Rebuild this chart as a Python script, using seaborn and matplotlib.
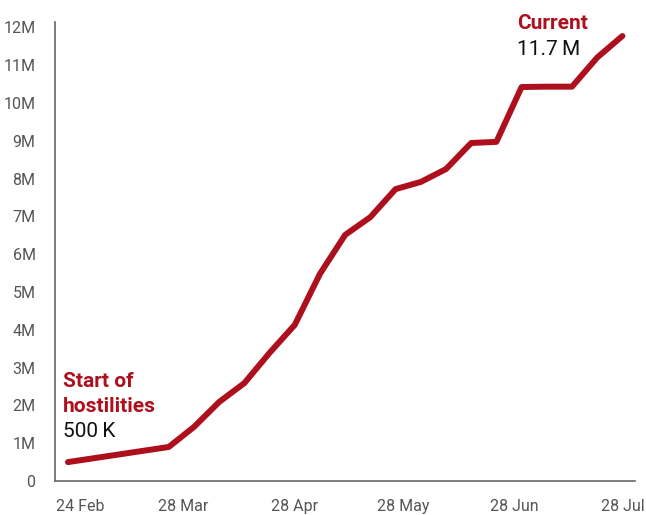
import matplotlib
matplotlib.use("Agg")
import matplotlib.pyplot as plt
import matplotlib.transforms as mtransforms
import seaborn as sns
import pandas as pd
import numpy as np

# Data (days since 24 Feb, cumulative people in millions)
days = [0, 28, 35, 42, 49, 56, 63, 70, 77, 84, 91, 98, 105, 112, 119, 126, 133, 140, 147, 154]
values_m = [0.5, 0.90, 1.43, 2.09, 2.59, 3.39, 4.13, 5.48, 6.51, 6.98, 7.72, 7.91, 8.25,
            8.94, 8.97, 10.42, 10.43, 10.43, 11.2, 11.77]
tick_days = [0, 32, 63, 93, 124, 154]
tick_labels = ["24 Feb", "28 Mar", "28 Apr", "28 May", "28 Jun", "28 Jul"]
ytick_vals = list(range(0, 13))
ytick_labels = ["0"] + [f"{v}M" for v in range(1, 13)]

RED = "#AD0F1D"
GREY = "#555555"

sns.set_theme(style="white")
plt.rcParams["font.family"] = ["Roboto", "DejaVu Sans"]

df = pd.DataFrame({"day": days, "value": values_m})

fig = plt.figure(figsize=(6.46, 5.15), dpi=100)
ax = fig.add_axes([55 / 646, (515 - 481) / 515, (635 - 55) / 646, (481 - 22) / 515])

sns.lineplot(data=df, x="day", y="value", ax=ax, color=RED, linewidth=4.3,
             solid_capstyle="round", solid_joinstyle="round")

ax.set_xlim(-3.6, 157.5)
ax.set_ylim(0, 12.14)
ax.set_xticks(tick_days)
ax.set_xticklabels(tick_labels, fontsize=11.5, color=GREY)
ax.set_yticks(ytick_vals)
ax.set_yticklabels(ytick_labels, fontsize=11.5, color=GREY)
ax.tick_params(axis="x", length=0, pad=13)
ax.tick_params(axis="y", length=0, pad=14)
ax.set_xlabel("")
ax.set_ylabel("")

# nudge first x label like the reference
first = ax.get_xticklabels()[0]
first.set_transform(first.get_transform() + mtransforms.ScaledTranslation(12 / 100, 0, fig.dpi_scale_trans))

for s in ["top", "right"]:
    ax.spines[s].set_visible(False)
for s in ["left", "bottom"]:
    ax.spines[s].set_color("#666666")
    ax.spines[s].set_linewidth(1.2)

ax.text(-1.4, 2.49, "Start of", color=RED, fontsize=15, fontweight="bold", va="baseline", ha="left")
ax.text(-1.4, 1.83, "hostilities", color=RED, fontsize=15, fontweight="bold", va="baseline", ha="left")
ax.text(-1.4, 1.16, "500\u2009K", color="#111111", fontsize=15, va="baseline", ha="left")

ax.text(124.7, 11.96, "Current", color=RED, fontsize=15, fontweight="bold", va="baseline", ha="left")
ax.text(124.7, 11.27, "11.7\u2009M", color="#111111", fontsize=15, va="baseline", ha="left")

fig.savefig("out.png", dpi=100)
